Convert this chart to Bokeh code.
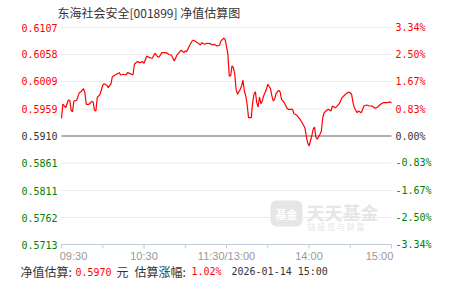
import math
from bokeh.plotting import figure
from bokeh.models import Range1d, Label, LabelSet, ColumnDataSource
from bokeh.core.properties import value
from bokeh.embed import file_html
from bokeh.resources import INLINE

# ---- data ----
minutes = [0, 1, 3, 5, 6, 7, 8, 9, 11, 13, 14, 16, 17, 18, 20, 22, 23, 24, 25, 26, 28, 30, 31, 33, 34, 36,
           37, 39, 42, 43, 45, 47, 48, 50, 52, 53, 55, 57, 59, 60, 62, 64, 66, 68, 70, 71, 73, 76, 78, 80,
           82, 84, 86, 87, 89, 90, 91, 93, 95, 96, 99, 101, 102, 104, 106, 108, 110, 111, 113, 115, 116,
           118, 119, 121, 122, 123, 124, 125, 126, 127, 128, 130, 131, 132, 133, 134, 135, 136, 138, 139,
           140, 141, 142, 143, 144, 145, 146, 147, 149, 150, 152, 153, 154, 155, 156, 158, 159, 160, 161,
           162, 164, 165, 168, 169, 171, 173, 175, 177, 178, 179, 180, 182, 183, 184, 185, 186, 188, 189,
           190, 191, 193, 194, 196, 197, 199, 200, 202, 204, 206, 208, 209, 211, 212, 213, 215, 216, 218,
           219, 220, 222, 224, 226, 228, 230, 232, 234, 237, 239, 240]
nav = [0.59421, 0.59681, 0.59614, 0.59754, 0.59748, 0.59567, 0.59541, 0.59736, 0.59748, 0.59887, 0.59899,
       0.59959, 0.59887, 0.59676, 0.59676, 0.59730, 0.59718, 0.59567, 0.59554, 0.59796, 0.59857, 0.60021,
       0.60050, 0.60021, 0.59977, 0.60050, 0.60177, 0.60208, 0.60250, 0.60208, 0.60221, 0.60208, 0.60250,
       0.60232, 0.60208, 0.60403, 0.60450, 0.60432, 0.60450, 0.60421, 0.60554, 0.60523, 0.60512, 0.60603,
       0.60535, 0.60535, 0.60614, 0.60614, 0.60584, 0.60566, 0.60463, 0.60572, 0.60626, 0.60657, 0.60614,
       0.60644, 0.60632, 0.60735, 0.60826, 0.60839, 0.60795, 0.60753, 0.60795, 0.60766, 0.60784, 0.60777,
       0.60753, 0.60766, 0.60735, 0.60748, 0.60826, 0.60875, 0.60857, 0.60590, 0.60190, 0.60190, 0.60372,
       0.60341, 0.60221, 0.59948, 0.59857, 0.59948, 0.60008, 0.60112, 0.59917, 0.59827, 0.59676, 0.59432,
       0.59432, 0.59705, 0.59857, 0.59905, 0.59705, 0.59627, 0.59808, 0.59687, 0.59736, 0.59827, 0.59948,
       0.60039, 0.59959, 0.59827, 0.59736, 0.59767, 0.59868, 0.59930, 0.59899, 0.59767, 0.59736, 0.59705,
       0.59603, 0.59585, 0.59585, 0.59505, 0.59481, 0.59421, 0.59341, 0.59251, 0.59100, 0.58978, 0.58918,
       0.59100, 0.59221, 0.59263, 0.59081, 0.59040, 0.59131, 0.59191, 0.59432, 0.59523, 0.59567, 0.59585,
       0.59554, 0.59645, 0.59614, 0.59627, 0.59687, 0.59796, 0.59845, 0.59887, 0.59899, 0.59857, 0.59705,
       0.59614, 0.59523, 0.59554, 0.59523, 0.59585, 0.59645, 0.59663, 0.59645, 0.59645, 0.59603, 0.59627,
       0.59676, 0.59705, 0.59705, 0.59720, 0.59700]

nav_ticks = [0.6107, 0.6058, 0.6009, 0.5959, 0.5910, 0.5861, 0.5811, 0.5762, 0.5713]
nav_labels = ["0.6107", "0.6058", "0.6009", "0.5959", "0.5910", "0.5861", "0.5811", "0.5762", "0.5713"]
pct_labels = ["3.34%", "2.50%", "1.67%", "0.83%", "0.00%", "-0.83%", "-1.67%", "-2.50%", "-3.34%"]
label_colors = ["#ff0000"] * 4 + ["#333333"] + ["#008000"] * 4
base_nav = 0.5910

session_start, session_end = 0, 240
time_ticks = [0, 30, 60, 90, 120, 150, 180, 210, 240]
time_label_pos = [0, 60, 120, 180, 240]
time_labels = ["09:30", "10:30", "11:30/13:00", "14:00", "15:00"]

title_text = "东海社会安全[001899] 净值估算图"
est_nav = "0.5970"
est_chg = "1.02%"
est_time = "2026-01-14 15:00"

RED = "#ff0000"
DARK = "#333333"
AXIS = "#c0ccd8"
MONO = "DejaVu Sans Mono"
CJK = "Noto Sans CJK SC"

W, H = 451, 281
# plot area inside the canvas (pixels): left 61, right 391, top 27, bottom 244
L, R, T, B = 61, 391, 27, 244
xs = (session_end - session_start) / (R - L)
ys = (nav_ticks[0] - nav_ticks[-1]) / (B - T)
x_range = Range1d(session_start - L * xs, session_end + (W - R) * xs)
y_range = Range1d(nav_ticks[-1] - (H - B) * ys, nav_ticks[0] + T * ys)

p = figure(width=W, height=H, output_backend="svg", toolbar_location=None,
           x_range=x_range, y_range=y_range, x_axis_type=None, y_axis_type=None,
           min_border=0, background_fill_color="white", border_fill_color="white")
p.outline_line_color = None

n = len(nav_ticks)
# dotted horizontal grid
p.segment(x0=[session_start] * n, y0=nav_ticks, x1=[session_end] * n, y1=nav_ticks,
          line_color="#d4d4d4", line_width=1, line_dash="1 1")
# zero (previous NAV) line
p.segment(x0=[session_start], y0=[base_nav], x1=[session_end], y1=[base_nav],
          line_color="#999999", line_width=1.5)
# time axis line + ticks
p.segment(x0=[session_start], y0=[nav_ticks[-1]], x1=[session_end], y1=[nav_ticks[-1]],
          line_color=AXIS, line_width=1)
p.ray(x=time_ticks, y=[nav_ticks[-1]] * len(time_ticks), length=4, length_units="screen",
      angle=-math.pi / 2, line_color=AXIS, line_width=1)

p.line(minutes, nav, line_color=RED, line_width=1.2)

# y labels (left: NAV, right: percent)
left_src = ColumnDataSource(dict(x=[session_start] * n, y=nav_ticks, text=nav_labels, color=label_colors))
p.add_layout(LabelSet(x="x", y="y", text="text", source=left_src, text_color="color",
                      text_align="right", text_baseline="middle", x_offset=-4,
                      text_font=value(MONO), text_font_size="10px"))
right_src = ColumnDataSource(dict(x=[session_end] * n, y=nav_ticks, text=pct_labels, color=label_colors))
p.add_layout(LabelSet(x="x", y="y", text="text", source=right_src, text_color="color",
                      text_align="left", text_baseline="middle", x_offset=4,
                      text_font=value(MONO), text_font_size="10px"))

# x labels
x_src = ColumnDataSource(dict(x=time_label_pos, y=[nav_ticks[-1]] * 5, text=time_labels,
                              dx=[12, 0, 0, 0, -12]))
p.add_layout(LabelSet(x="x", y="y", text="text", source=x_src, text_color="#999999",
                      text_align="center", text_baseline="middle", x_offset="dx", y_offset=-11,
                      text_font=value("Liberation Sans"), text_font_size="11px"))

# watermark
p.add_layout(Label(x=270, y=H - 213, x_units="screen", y_units="screen", text="基金",
                   text_color="white", text_font=CJK, text_font_size="11px", text_font_style="bold",
                   background_fill_color="#e6e6e6", border_radius=6, padding=5,
                   text_baseline="middle"))
p.add_layout(Label(x=306, y=H - 211, x_units="screen", y_units="screen", text="天天基金",
                   text_color="#e6e6e6", text_font=CJK, text_font_size="18px", text_font_style="bold",
                   text_baseline="middle"))
p.add_layout(Label(x=307, y=H - 226, x_units="screen", y_units="screen", text="链 接 您 与 财 富",
                   text_color="#e6e6e6", text_font=CJK, text_font_size="8px",
                   text_baseline="middle"))

# title
p.add_layout(Label(x=57, y=H - 12, x_units="screen", y_units="screen", text=title_text,
                   text_color=DARK, text_font=CJK, text_font_size="12px", text_baseline="middle"))

# bottom info line
def info(x, txt, color, font, size):
    p.add_layout(Label(x=x, y=H - 271, x_units="screen", y_units="screen", text=txt,
                       text_color=color, text_font=font, text_font_size=size,
                       text_baseline="middle"))

info(20, "净值估算:", DARK, CJK, "12px")
info(75, est_nav, RED, MONO, "10px")
info(116, "元", DARK, CJK, "12px")
info(134, "估算涨幅:", DARK, CJK, "12px")
info(191, est_chg, RED, MONO, "10px")
info(231, est_time, DARK, MONO, "10px")

open("out.html", "w").write(file_html(p, INLINE))
